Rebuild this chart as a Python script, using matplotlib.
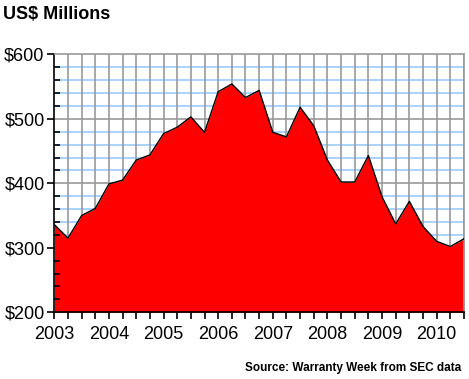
"""Quarterly warranty claims, area chart."""

import numpy as np
from matplotlib import pyplot as plt
from matplotlib.ticker import MultipleLocator

plt.rcParams['font.family'] = ['Liberation Sans', 'DejaVu Sans']

# 2003 Q1 .. 2010 Q3, US$ millions
values = [336, 315, 350, 361, 399, 405, 436, 444,
          477, 487, 503, 479, 542, 554, 533, 544,
          479, 472, 518, 489, 436, 402, 402, 443,
          379, 337, 372, 333, 310, 302, 314]
years = ['2003', '2004', '2005', '2006', '2007', '2008', '2009', '2010']

x = np.arange(len(values))

fig = plt.figure(figsize=(4.69, 3.79), dpi=100)
ax = fig.add_axes([0.1158, 0.176, 0.9893 - 0.1158, 0.8567 - 0.176])

# grid
for yv in range(220, 600, 20):
    if yv % 100:
        ax.axhline(yv, color='#99ccff', lw=1.2, zorder=0)
for yv in range(300, 600, 100):
    ax.axhline(yv, color='#999999', lw=1.2, zorder=0.5)
for xv in x[1:]:
    ax.axvline(xv, color='#999999', lw=1.2, zorder=0.6)

ax.fill_between(x, values, 200, color='#ff0000', zorder=2, lw=0)
ax.plot(x, values, color='black', lw=1, zorder=3)

ax.set_xlim(0, len(values) - 1)
ax.set_ylim(200, 600)

ax.set_yticks([200, 300, 400, 500, 600])
ax.set_yticklabels(['$200', '$300', '$400', '$500', '$600'], fontsize=13)
ax.yaxis.set_minor_locator(MultipleLocator(20))
ax.tick_params(axis='y', which='major', direction='out', length=5, width=1.2, pad=2)
ax.tick_params(axis='y', which='minor', direction='in', length=4, width=1.2)

ax.set_xticks(np.arange(0, len(values), 4))
ax.set_xticklabels(years, fontsize=13)
ax.xaxis.set_minor_locator(MultipleLocator(1))
ax.tick_params(axis='x', which='both', direction='out', length=5, width=1.2, pad=5)

for s in ['left', 'bottom']:
    ax.spines[s].set_color('black')
    ax.spines[s].set_linewidth(1.2)
for s in ['top', 'right']:
    ax.spines[s].set_color('#999999')
    ax.spines[s].set_linewidth(1.2)
ax.set_axisbelow(False)

fig.text(0.006, 0.963, 'US$ Millions', fontsize=13, fontweight='bold', va='center')
fig.text(0.753, 0.029, 'Source: Warranty Week from SEC data', fontsize=8.5,
         fontweight='bold', ha='center', va='center')

fig.savefig('out.png', dpi=100)
